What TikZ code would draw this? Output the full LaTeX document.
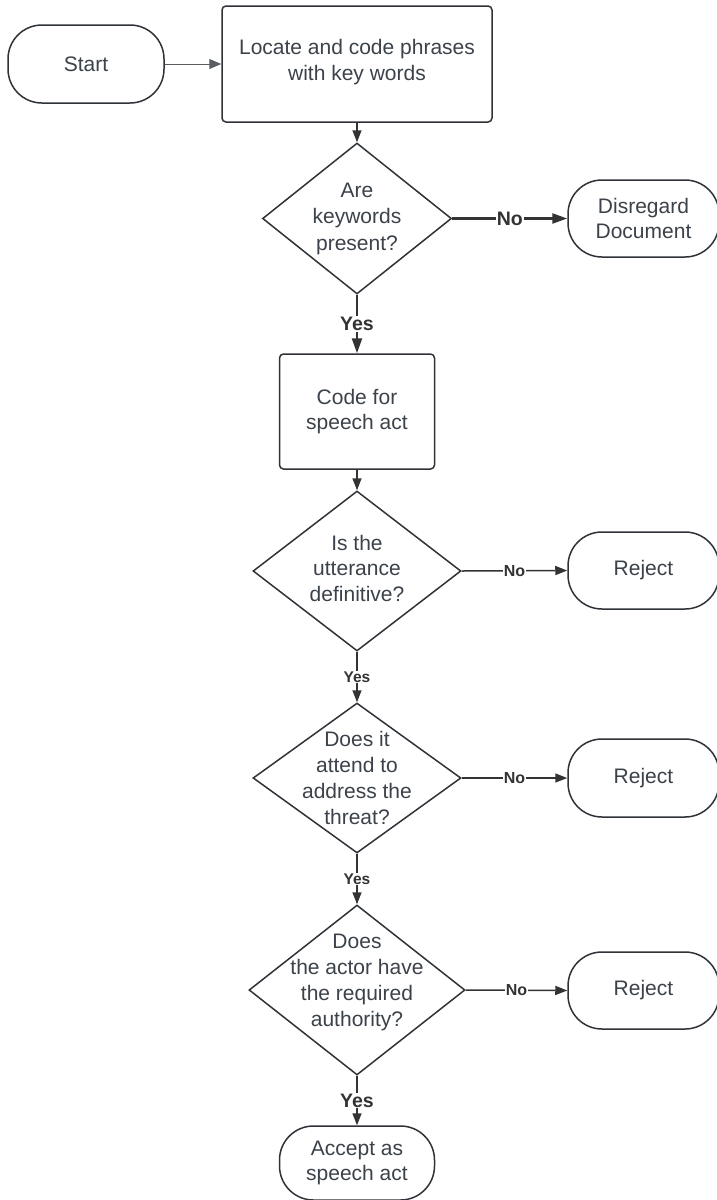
\documentclass[tikz,border=0pt]{standalone}
\usepackage{fontspec}
\setmainfont{Liberation Sans}
\usetikzlibrary{shapes.geometric,arrows.meta}
\definecolor{ln}{HTML}{2F3338}
\definecolor{tx}{HTML}{3C424A}
\definecolor{cn}{HTML}{333333}
\begin{document}
\begin{tikzpicture}[x=1pt,y=-1pt,
  base/.style={draw=ln,line width=1.5pt,text=tx,align=center,inner sep=0pt,
    font=\fontsize{21}{25.5}\selectfont},
  term/.style={base,rectangle,rounded corners=34pt,minimum width=#1},
  term/.default=151pt,
  proc/.style={base,rectangle,rounded corners=4pt},
  dec/.style={base,diamond,minimum width=#1},
  dectext/.style={text=tx,align=center,font=\fontsize{21}{25.7}\selectfont},
  lbl/.style={fill=white,inner sep=1pt,text=cn,font=\bfseries\fontsize{16}{18}\selectfont},
  biglbl/.style={lbl,font=\bfseries\fontsize{19.5}{22}\selectfont},
  arr/.style={draw=cn,line width=1.5pt,-{Triangle[length=12pt,width=9pt]}},
  thickarr/.style={draw=cn,line width=2.3pt,-{Triangle[length=15pt,width=10pt]}},
  thinarr/.style={draw=ln!80,line width=1pt,-{Triangle[length=12pt,width=10pt]}}
]
\clip (0,0) rectangle (717,1200);
\fill[white] (0,0) rectangle (717,1200);

% nodes
\node[term=156pt,minimum height=78pt] (start) at (86,64) {Start};
\node[proc,minimum width=270pt,minimum height=116pt,
  label={[dectext,yshift=2pt,font=\fontsize{21}{26}\selectfont]center:Locate and code phrases\\with key words}] (locate) at (357,64) {};

\node[dec=189pt,minimum height=151pt,label={[dectext,font=\fontsize{21}{26.5}\selectfont]center:Are\\keywords\\present?}] (d1) at (357,218.5) {};
\node[term,minimum height=77pt] (disregard) at (643.5,218.5) {Disregard\\Document};

\node[proc,minimum width=155pt,minimum height=115pt] (speech) at (357,411.5) {Code for\\speech act};

\node[dec=208pt,minimum height=160pt,label={[dectext,yshift=3pt,font=\fontsize{21}{25.5}\selectfont]center:Is the\\utterance\\definitive?}] (d2) at (357,571) {};
\node[term,minimum height=77pt] (rej1) at (643.5,570.5) {Reject};

\node[dec=208pt,minimum height=150pt,label={[dectext]center:Does it\\attend to\\address the\\threat?}] (d3) at (357,778) {};
\node[term,minimum height=78pt] (rej2) at (643.5,778) {Reject};

\node[dec=216pt,minimum height=170pt,label={[dectext,yshift=7.5pt,font=\fontsize{21}{26}\selectfont]center:Does\\the actor have\\the required\\authority?}] (d4) at (357,990) {};
\node[term,minimum height=77pt] (rej3) at (643.5,990.5) {Reject};

\node[term=155pt,minimum height=74pt] (accept) at (357,1163) {Accept as\\speech act};

% connectors
\draw[thinarr] (start) -- (locate);
\draw[arr] (locate.south) -- (d1.north);
\draw[thickarr] (d1.east) -- node[biglbl]{No} (disregard.west);
\draw[thickarr] (d1.south) -- node[biglbl]{Yes} (speech.north);
\draw[arr] (speech.south) -- (d2.north);
\draw[arr] (d2.east) -- node[lbl]{No} (rej1.west);
\draw[arr] (d2.south) -- node[lbl,font=\bfseries\fontsize{15.5}{18}\selectfont]{Yes} (d3.north);
\draw[arr] (d3.east) -- node[lbl]{No} (rej2.west);
\draw[arr] (d3.south) -- node[lbl,font=\bfseries\fontsize{15.5}{18}\selectfont]{Yes} (d4.north);
\draw[arr] (d4.east) -- node[lbl]{No} (rej3.west);
\draw[arr] (d4.south) -- node[biglbl]{Yes} (accept.north);
\end{tikzpicture}
\end{document}
